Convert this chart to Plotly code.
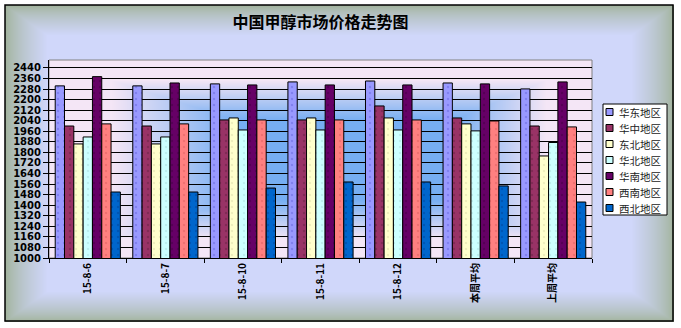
import base64, struct, zlib
import numpy as np
import plotly.graph_objects as go

categories = ["15-8-6", "15-8-7", "15-8-10", "15-8-11", "15-8-12", "本周平均", "上周平均"]
huadong  = [2304, 2304, 2319, 2334, 2341, 2326, 2281]
huazhong = [2000, 2000, 2046, 2046, 2152, 2061, 2000]
dongbei  = [1864, 1864, 2061, 2061, 2061, 2016, 1773]
huabei   = [1917, 1917, 1970, 1970, 1970, 1963, 1875]
huanan   = [2374, 2326, 2311, 2311, 2311, 2319, 2334]
xinan    = [2016, 2016, 2046, 2046, 2046, 2038, 1993]
xibei    = [1500, 1500, 1530, 1576, 1576, 1546, 1424]

series = [
    ("华东地区", huadong, "#9999FF", "#6666DD"),
    ("华中地区", huazhong, "#993366", "#662244"),
    ("东北地区", dongbei, "#FFFFCC", "#DDDDAA"),
    ("华北地区", huabei, "#CCFFFF", "#AADDDD"),
    ("华南地区", huanan, "#660066", "#440044"),
    ("西南地区", xinan, "#FF8080", "#DD6060"),
    ("西北地区", xibei, "#0066CC", "#004499"),
]
yticks = list(range(1000, 2441, 80))

W, H = 681, 328
L, R, T, B = 49, 592, 60, 258

# ---- background gradient image ----
yy, xx = np.mgrid[0:H, 0:W].astype(float)
img = np.full((H, W, 3), 255.0)
bx0, by0, bx1, by1 = 5, 5, 673, 321
dx = np.minimum(xx - bx0, bx1 - xx) / 42.0
dy = np.minimum(yy - by0, by1 - yy) / 30.0
t = np.clip(np.minimum(dx, dy), 0, 1) ** 0.7
edge = np.array([160, 178, 152.0])
center = np.array([208, 215, 250.0])
outer = edge + (center - edge) * t[..., None]
inbox = (xx >= bx0) & (xx <= bx1) & (yy >= by0) & (yy <= by1)
img[inbox] = outer[inbox]

cx, cy = 360.0, 160.0
du = np.where(xx < cx, (cx - xx) / (cx - L), (xx - cx) / (R - cx))
dv = np.where(yy < cy, (cy - yy) / (cy - T), (yy - cy) / (B - cy))
s = np.maximum(du, dv)
k = np.clip((0.80 - s) / 0.40, 0, 1)[..., None]
pink = np.array([244, 230, 246.0])
blue = np.array([118, 174, 242.0])
plot_col = pink + (blue - pink) * k
inplot = (xx >= L) & (xx < R) & (yy >= T) & (yy < B)
img[inplot] = plot_col[inplot]
img = img.astype(np.uint8)

def to_png(a):
    h, w, _ = a.shape
    raw = b"".join(b"\x00" + a[i].tobytes() for i in range(h))
    def chunk(tag, data):
        return struct.pack(">I", len(data)) + tag + data + struct.pack(">I", zlib.crc32(tag + data) & 0xffffffff)
    return (b"\x89PNG\r\n\x1a\n" + chunk(b"IHDR", struct.pack(">IIBBBBB", w, h, 8, 2, 0, 0, 0))
            + chunk(b"IDAT", zlib.compress(raw, 9)) + chunk(b"IEND", b""))

uri = "data:image/png;base64," + base64.b64encode(to_png(img)).decode()

pw, ph = R - L, B - T
def px(x): return (x - L) / pw
def py(y): return 1 - (y - T) / ph

fig = go.Figure()
for name, vals, col, dot in series:
    fig.add_trace(go.Bar(
        x=categories, y=vals, name=name,
        marker=dict(color=col, line=dict(color="black", width=1),
                    pattern=dict(shape=".", size=6, solidity=0.12, fgcolor=dot, bgcolor=col)),
    ))

# custom legend (box, swatches, labels)
shapes = [
    dict(type="rect", xref="paper", yref="paper", x0=px(5), x1=px(673), y0=py(321), y1=py(5),
         line=dict(color="black", width=1.5), layer="above"),
    dict(type="rect", xref="paper", yref="paper", x0=0, x1=1, y0=0, y1=1,
         line=dict(color="#808080", width=1), layer="below"),
    dict(type="rect", xref="paper", yref="paper", x0=px(603), x1=px(667), y0=py(215), y1=py(104),
         line=dict(color="black", width=1), fillcolor="white", layer="above"),
]
annotations = []
for i, (name, vals, col, dot) in enumerate(series):
    yc = 112 + i * 16
    shapes.append(dict(type="rect", xref="paper", yref="paper",
                       x0=px(606), x1=px(613), y0=py(yc + 3.5), y1=py(yc - 3.5),
                       line=dict(color="black", width=1), fillcolor=col, layer="above"))
    annotations.append(dict(text=name, xref="paper", yref="paper", x=px(617), y=py(yc),
                            xanchor="left", yanchor="middle", showarrow=False,
                            font=dict(family="Noto Sans CJK SC", size=10.5, color="#222222")))

fig.update_layout(
    width=W, height=H,
    margin=dict(l=L, r=W - R, t=T, b=H - B, autoexpand=False),
    paper_bgcolor="white",
    plot_bgcolor="rgba(0,0,0,0)",
    barmode="group", bargap=0.16, bargroupgap=0,
    title=dict(text="<b>中国甲醇市场价格走势图</b>", x=0.5, xref="paper", y=1 - 22 / H, yanchor="middle",
               xanchor="center",
               font=dict(family="Noto Sans CJK SC", size=16, color="black")),
    showlegend=False,
    images=[dict(source=uri, xref="paper", yref="paper", x=px(0), y=py(0),
                 sizex=W / pw, sizey=H / ph, xanchor="left", yanchor="top",
                 sizing="stretch", layer="below")],
    shapes=shapes,
    annotations=annotations,
    font=dict(family="DejaVu Sans", color="black"),
)
fig.update_yaxes(range=[1000, 2500], tickmode="array", tickvals=yticks,
                 ticktext=[f"<b>{v}</b>" for v in yticks],
                 showgrid=True, gridcolor="black", gridwidth=1,
                 showline=True, linecolor="black", linewidth=1,
                 ticks="outside", ticklen=5, tickcolor="black",
                 tickfont=dict(family="DejaVu Sans", size=10, color="black"), zeroline=False,
                 automargin=False)
fig.update_xaxes(type="category", showline=True, linecolor="black", linewidth=1,
                 ticks="outside", ticklen=4, tickcolor="black", tickson="boundaries",
                 tickangle=-90, tickmode="array", tickvals=categories,
                 ticktext=[f"<b>{c}</b>" for c in categories],
                 tickfont=dict(family="Noto Sans CJK SC", size=10, color="black"),
                 automargin=False)

fig.write_html("out.html")
